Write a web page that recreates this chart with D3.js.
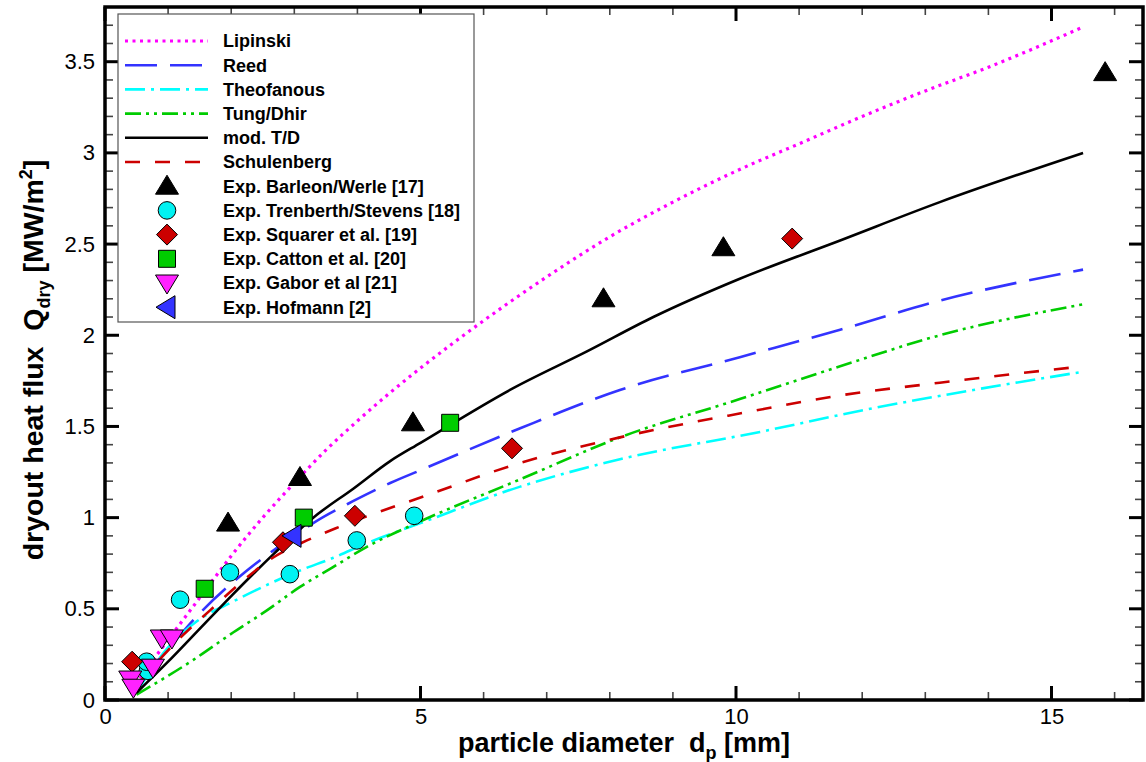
<!DOCTYPE html>
<html>
<head>
<meta charset="utf-8">
<script src="https://cdn.jsdelivr.net/npm/d3@7"></script>
<style>
  html, body { margin: 0; padding: 0; background: #fff; }
  svg { display: block; }
  text { font-family: "Liberation Sans", Arial, Helvetica, sans-serif; }
</style>
</head>
<body>
<div id="chart"></div>
<script>
// ---------- data ----------
const xTicksMajor = [0, 5, 10, 15];
const yTicksMajor = [0, 0.5, 1, 1.5, 2, 2.5, 3, 3.5];
const yTickLabels = ["0", "0.5", "1", "1.5", "2", "2.5", "3", "3.5"];

const lipinski = [[0.55,0.12],[1.0,0.33],[1.5,0.56],[2.0,0.79],[2.5,1.0],[3.0,1.19],[3.5,1.37],[4.0,1.53],[4.5,1.68],[5.0,1.82],[6.0,2.08],[7.0,2.32],[8.0,2.54],[9.0,2.73],[10.0,2.90],[11.0,3.05],[12.0,3.20],[13.0,3.34],[14.0,3.47],[15.5,3.69]];
const reed = [[0.6,0.12],[1.0,0.28],[1.5,0.475],[2.25,0.71],[3.0,0.9],[3.3,0.97],[3.93,1.09],[4.52,1.19],[5.0,1.26],[6.58,1.49],[8.16,1.70],[10.06,1.88],[11.65,2.03],[13.23,2.19],[15.5,2.36]];
const theofanous = [[0.55,0.07],[0.98,0.28],[1.45,0.43],[2.03,0.54],[2.56,0.63],[3.09,0.71],[3.62,0.78],[4.15,0.86],[5.0,0.97],[6.58,1.17],[8.16,1.32],[10.38,1.47],[12.17,1.60],[13.76,1.70],[15.5,1.80]];
const tungDhir = [[0.5,0.03],[1.4,0.22],[2.03,0.37],[2.56,0.49],[3.09,0.62],[3.62,0.73],[4.15,0.84],[5.0,0.98],[6.58,1.21],[8.16,1.44],[10.06,1.65],[11.65,1.83],[13.23,2.0],[15.5,2.17]];
const modTD = [[0.5,0.04],[1.0,0.21],[1.5,0.39],[2.0,0.57],[2.67,0.80],[3.3,1.0],[3.94,1.16],[4.52,1.31],[5.0,1.41],[6.47,1.71],[7.63,1.91],[8.69,2.10],[10.06,2.31],[11.65,2.52],[13.23,2.73],[15.5,3.0]];
const schulenberg = [[0.55,0.1],[1.19,0.34],[1.66,0.49],[2.14,0.64],[2.66,0.78],[3.2,0.875],[3.72,0.95],[4.25,1.02],[5.0,1.11],[6.58,1.30],[8.16,1.44],[10.2,1.58],[11.65,1.67],[13.23,1.74],[15.5,1.83]];

const barleon = [[1.95,0.97],[3.09,1.22],[4.88,1.52],[7.9,2.2],[9.8,2.48],[15.85,3.44]];
const trenberth = [[0.68,0.16],[0.66,0.21],[1.19,0.55],[1.98,0.70],[2.93,0.69],[3.99,0.875],[4.9,1.01]];
const squarer = [[0.43,0.21],[2.82,0.865],[3.96,1.01],[6.45,1.38],[10.89,2.53]];
const catton = [[1.58,0.61],[3.15,1.0],[5.47,1.52]];
const gabor = [[0.40,0.115],[0.45,0.07],[0.76,0.18],[0.9,0.34],[1.06,0.34]];
const hofmann = [[2.98,0.90]];

const lineNames = ["Lipinski","Reed","Theofanous","Tung/Dhir","mod. T/D","Schulenberg"];
const pointNames = ["Exp. Barleon/Werle [17]","Exp. Trenberth/Stevens [18]","Exp. Squarer et al. [19]","Exp. Catton et al. [20]","Exp. Gabor et al [21]","Exp. Hofmann [2]"];

// ---------- styles ----------
const lineSeries = [
  {name: lineNames[0], data: lipinski,    color: "#ff00ff", dash: "3,4.5", width: 3.2},
  {name: lineNames[1], data: reed,        color: "#3333ff", dash: "32,13", width: 2.6},
  {name: lineNames[2], data: theofanous,  color: "#00ffff", dash: "20,6,3,6", width: 2.6},
  {name: lineNames[3], data: tungDhir,    color: "#00cc00", dash: "16,5,3,5,3,5", width: 2.6},
  {name: lineNames[4], data: modTD,       color: "#000000", dash: null, width: 2.6},
  {name: lineNames[5], data: schulenberg, color: "#cc0000", dash: "15,15", width: 2.6}
];
const pointSeries = [
  {name: pointNames[0], data: barleon,   shape: "triUp",   fill: "#000000"},
  {name: pointNames[1], data: trenberth, shape: "circle",  fill: "#00f2f2"},
  {name: pointNames[2], data: squarer,   shape: "diamond", fill: "#cc0000"},
  {name: pointNames[3], data: catton,    shape: "square",  fill: "#00cc00"},
  {name: pointNames[4], data: gabor,     shape: "triDown", fill: "#ff22ff"},
  {name: pointNames[5], data: hofmann,   shape: "triLeft", fill: "#3333ff"}
];

// ---------- layout ----------
const W = 1146, H = 762;
const L = 105, R = 1143, T = 7, B = 700;

const svg = d3.select("#chart").append("svg").attr("width", W).attr("height", H);

const x = d3.scaleLinear().domain([0, 16.45]).range([L, R]);
const y = d3.scaleLinear().domain([0, 3.8]).range([B, T]);

svg.append("defs").append("clipPath").attr("id", "clip")
  .append("rect").attr("x", L).attr("y", T).attr("width", R - L).attr("height", B - T);

const line = d3.line().x(d => x(d[0])).y(d => y(d[1])).curve(d3.curveMonotoneX);

const plot = svg.append("g").attr("clip-path", "url(#clip)");
lineSeries.forEach(s => {
  plot.append("path").datum(s.data)
    .attr("d", line)
    .attr("fill", "none")
    .attr("stroke", s.color)
    .attr("stroke-width", s.width)
    .attr("stroke-dasharray", s.dash);
});

function shapePath(shape) {
  switch (shape) {
    case "triUp":   return "M0,-11 L11.5,8 L-11.5,8 Z";
    case "triDown": return "M0,11 L11.5,-8 L-11.5,-8 Z";
    case "triLeft": return "M-11,0 L8,-11.5 L8,11.5 Z";
    case "diamond": return "M0,-10.5 L10.5,0 L0,10.5 L-10.5,0 Z";
    case "square":  return "M-8.5,-8.5 L8.5,-8.5 L8.5,8.5 L-8.5,8.5 Z";
    default: return null;
  }
}
function drawMarker(g, shape, fill, cx, cy) {
  if (shape === "circle") {
    g.append("circle").attr("cx", cx).attr("cy", cy).attr("r", 8.8)
      .attr("fill", fill).attr("stroke", "#000").attr("stroke-width", 1);
  } else {
    g.append("path").attr("d", shapePath(shape))
      .attr("transform", `translate(${cx},${cy})`)
      .attr("fill", fill).attr("stroke", "#000").attr("stroke-width", 1);
  }
}

const pts = svg.append("g");
pointSeries.forEach(s => {
  s.data.forEach(d => drawMarker(pts, s.shape, s.fill, x(d[0]), y(d[1])));
});

// ---------- axes / ticks on all four sides ----------
const axes = svg.append("g");
const xMinor = d3.range(0, 17, 1).filter(v => v % 5 !== 0 && v <= 16.45);
const yMinor = d3.range(1, 38).map(v => v / 10).filter(v => Math.abs(v * 2 - Math.round(v * 2)) > 1e-6);
const majLen = 14, minLen = 8;

function tick(x1, y1, x2, y2, major) {
  axes.append("line").attr("x1", x1).attr("y1", y1).attr("x2", x2).attr("y2", y2)
    .attr("stroke", major ? "#000" : "#444")
    .attr("stroke-width", major ? 3 : 1.6);
}
xTicksMajor.forEach(v => { tick(x(v), B, x(v), B - majLen, true); tick(x(v), T, x(v), T + majLen, true); });
xMinor.forEach(v => { tick(x(v), B, x(v), B - minLen, false); tick(x(v), T, x(v), T + minLen, false); });
yTicksMajor.forEach(v => { tick(L, y(v), L + majLen, y(v), true); tick(R, y(v), R - majLen, y(v), true); });
yMinor.forEach(v => { tick(L, y(v), L + minLen, y(v), false); tick(R, y(v), R - minLen, y(v), false); });

axes.append("rect").attr("x", L).attr("y", T).attr("width", R - L).attr("height", B - T)
  .attr("fill", "none").attr("stroke", "#000").attr("stroke-width", 3.5);

// tick labels
const xAxisG = svg.append("g").attr("transform", `translate(0,${B})`)
  .call(d3.axisBottom(x).tickValues(xTicksMajor).tickSize(0).tickPadding(8).tickFormat(d3.format("d")));
xAxisG.select(".domain").remove();
xAxisG.selectAll("text").attr("font-size", 22).attr("font-family", "Liberation Sans, Arial, sans-serif").attr("fill", "#000");

const yAxisG = svg.append("g").attr("transform", `translate(${L},0)`)
  .call(d3.axisLeft(y).tickValues(yTicksMajor).tickSize(0).tickPadding(10).tickFormat((d, i) => yTickLabels[i]));
yAxisG.select(".domain").remove();
yAxisG.selectAll("text").attr("font-size", 22).attr("font-family", "Liberation Sans, Arial, sans-serif").attr("fill", "#000");

// axis titles
const NB = "\u00a0";
const xt = svg.append("text").attr("x", (L + R) / 2).attr("y", 752)
  .attr("text-anchor", "middle").attr("font-size", 27).attr("font-weight", "bold");
xt.append("tspan").text("particle diameter" + NB + NB + "d");
xt.append("tspan").attr("font-size", 18).attr("dy", 7).text("p");
xt.append("tspan").attr("dy", -7).text(NB + "[mm]");

const yt = svg.append("text").attr("transform", `translate(43,${360}) rotate(-90)`)
  .attr("text-anchor", "middle").attr("font-size", 28.5).attr("font-weight", "bold");
yt.append("tspan").text("dryout heat flux" + NB + NB + "Q");
yt.append("tspan").attr("font-size", 18).attr("dy", 7).text("dry");
yt.append("tspan").attr("dy", -7).text(NB + "[MW/m");
yt.append("tspan").attr("font-size", 18).attr("dy", -11).text("2");
yt.append("tspan").attr("dy", 11).text("]");

// ---------- legend ----------
const lg = svg.append("g");
lg.append("rect").attr("x", 118).attr("y", 14).attr("width", 356).attr("height", 308)
  .attr("fill", "#fff").attr("stroke", "#555").attr("stroke-width", 1.2);
const rowY = i => 41 + i * 24.2;
lineSeries.forEach((s, i) => {
  lg.append("line").attr("x1", 125).attr("x2", 208).attr("y1", rowY(i)).attr("y2", rowY(i))
    .attr("stroke", s.color).attr("stroke-width", s.width).attr("stroke-dasharray", s.dash);
  lg.append("text").attr("x", 223).attr("y", rowY(i)).attr("dy", "0.35em")
    .attr("font-size", 18).attr("font-weight", "bold").text(s.name);
});
pointSeries.forEach((s, j) => {
  const i = j + 6;
  drawMarker(lg, s.shape, s.fill, 167, rowY(i));
  lg.append("text").attr("x", 223).attr("y", rowY(i)).attr("dy", "0.35em")
    .attr("font-size", 18).attr("font-weight", "bold").text(s.name);
});
</script>
</body>
</html>
